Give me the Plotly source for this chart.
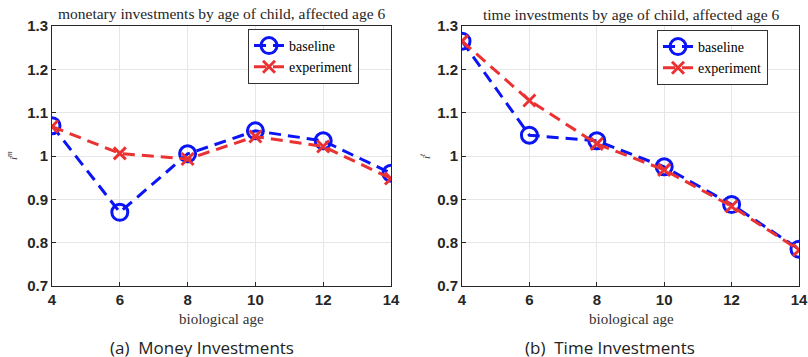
import plotly.graph_objects as go

ages = [4, 6, 8, 10, 12, 14]
money_baseline = [1.070, 0.870, 1.005, 1.058, 1.035, 0.960]
money_experiment = [1.068, 1.006, 0.993, 1.045, 1.022, 0.948]
time_baseline = [1.265, 1.048, 1.035, 0.975, 0.888, 0.785]
time_experiment = [1.265, 1.128, 1.028, 0.968, 0.884, 0.783]
y_ticks = [0.7, 0.8, 0.9, 1.0, 1.1, 1.2, 1.3]
y_ticklabels = ["0.7", "0.8", "0.9", "1", "1.1", "1.2", "1.3"]
x_ticks = [4, 6, 8, 10, 12, 14]

W, H = 808, 357
BLUE = "#0a14f5"
RED = "#eb3232"
SERIF = "Liberation Serif, DejaVu Serif, serif"
TICKFONT = dict(family="Liberation Sans, Arial, sans-serif", size=15, color="#262626", weight="bold")

def px(x):
    return x / W

def py(y):
    return 1 - y / H

fig = go.Figure()

panels = [
    ("x", "y", money_baseline, money_experiment, "legend"),
    ("x2", "y2", time_baseline, time_experiment, "legend2"),
]
for xa, ya, b, e, leg in panels:
    fig.add_trace(go.Scatter(
        x=ages, y=b, name="baseline", xaxis=xa, yaxis=ya, legend=leg,
        mode="lines+markers",
        line=dict(color=BLUE, width=3, dash="12px,7px"),
        marker=dict(symbol="circle-open", size=16, color=BLUE, line=dict(width=3, color=BLUE)),
    ))
    fig.add_trace(go.Scatter(
        x=ages, y=e, name="experiment", xaxis=xa, yaxis=ya, legend=leg,
        mode="lines+markers",
        line=dict(color=RED, width=3, dash="12px,7px"),
        marker=dict(symbol="x-thin-open", size=12, color=RED, line=dict(width=3, color=RED)),
    ))

axis_common = dict(
    showline=True, linecolor="#262626", linewidth=1, mirror=True,
    showgrid=True, gridcolor="#e6e6e6", gridwidth=1,
    ticks="inside", ticklen=4, tickcolor="#262626",
    tickfont=TICKFONT, zeroline=False, automargin=False,
)

layout = dict(
    width=W, height=H, margin=dict(l=0, r=0, t=0, b=0, pad=0), autosize=False,
    plot_bgcolor="white", paper_bgcolor="white", showlegend=True,
    xaxis=dict(domain=[px(52), px(391)], range=[4, 14], tickvals=x_ticks, anchor="y", **axis_common),
    yaxis=dict(domain=[py(286), py(26)], range=[0.7, 1.3], tickvals=y_ticks, ticktext=y_ticklabels, anchor="x", **axis_common),
    xaxis2=dict(domain=[px(462), px(799)], range=[4, 14], tickvals=x_ticks, anchor="y2", **axis_common),
    yaxis2=dict(domain=[py(286), py(26)], range=[0.7, 1.3], tickvals=y_ticks, ticktext=y_ticklabels, anchor="x2", **axis_common),
)

leg_common = dict(
    font=dict(family=SERIF, size=14, color="#000"),
    bgcolor="white", bordercolor="#333", borderwidth=1,
    xanchor="left", yanchor="top", tracegroupgap=0, itemwidth=30,
)
layout["legend"] = dict(x=px(248), y=py(29), **leg_common)
layout["legend2"] = dict(x=px(657), y=py(30), **leg_common)
fig.update_layout(**layout)

annotations = []
def ann(x, y, text, size, family, color="#262626", angle=0):
    annotations.append(dict(x=px(x), y=py(y), xref="paper", yref="paper", text=text, showarrow=False,
                            font=dict(family=family, size=size, color=color), textangle=angle,
                            xanchor="center", yanchor="middle"))

ann(221, 14, "monetary investments by age of child, affected age 6", 15.5, SERIF)
ann(631, 15, "time investments by age of child, affected age 6", 15.5, SERIF)
ann(221, 319, "biological age", 15, SERIF, "#333")
ann(631, 319, "biological age", 15, SERIF, "#333")
ann(12, 156, "<i>i<sup>m</sup></i>", 11, SERIF, "#333", -90)
ann(425, 156, "<i>i<sup>t</sup></i>", 11, SERIF, "#333", -90)
ann(202, 347, "(a)  Money Investments", 17, "Open Sans, Noto Sans, sans-serif", "#222")
ann(610, 347, "(b)  Time Investments", 17, "Open Sans, Noto Sans, sans-serif", "#222")
fig.update_layout(annotations=annotations)

fig.write_html("out.html", config={"displayModeBar": False},
               post_script="document.body.style.margin='0';document.body.style.overflow='hidden';")
